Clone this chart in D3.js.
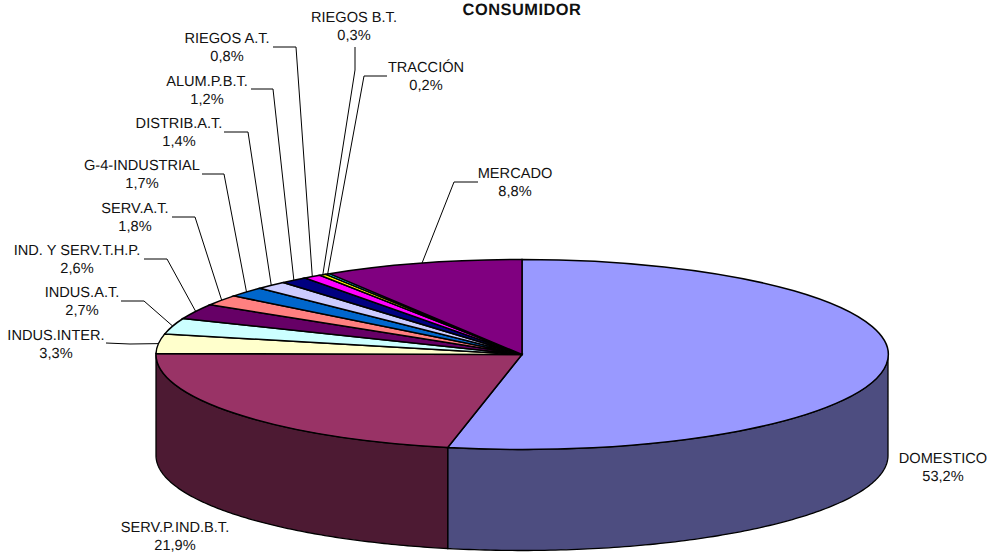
<!DOCTYPE html>
<html>
<head>
<meta charset="utf-8">
<script src="https://cdn.jsdelivr.net/npm/d3@7"></script>
<style>
    html, body { margin: 0; padding: 0; background: #fff; }
    svg { display: block; }
    text { font-family: "Liberation Sans", Arial, sans-serif; font-size: 14.6px; fill: #111; text-rendering: geometricPrecision; }
</style>
</head>
<body>
<div id="chart"></div>
<script>
const chartTitle = "CONSUMIDOR";
const categories = ["DOMESTICO", "SERV.P.IND.B.T.", "INDUS.INTER.", "INDUS.A.T.", "IND. Y SERV.T.H.P.", "SERV.A.T.",
    "G-4-INDUSTRIAL", "DISTRIB.A.T.", "ALUM.P.B.T.", "RIEGOS A.T.", "RIEGOS B.T.", "TRACCIÓN", "MERCADO"];
const shares = [53.2, 21.9, 3.3, 2.7, 2.6, 1.8, 1.7, 1.4, 1.2, 0.8, 0.3, 0.2, 8.8];
const topColors = ["#9999ff", "#993366", "#ffffcc", "#ccffff", "#660066", "#ff8080",
    "#0066cc", "#ccccff", "#000080", "#ff00ff", "#ffff00", "#00ffff", "#800080"];

// Label centre and first line baseline, then the leader start and elbow
const labelX = [943, 175, 56, 82, 77, 135, 142, 179, 207, 227, 354, 426, 515];
const labelY = [463, 532, 340, 297, 255, 213, 170, 128, 86, 43, 22, 72, 178];
const leaderStart = [null, null, [106, 343], [121, 301], [144, 259], [172, 217], [202, 174],
    [224, 132], [251, 89], [273, 47], [355, 47], [387, 76], [478, 182]];
const leaderElbow = [null, null, [130, 344], [144, 301], [167, 259], [195, 217], [224, 174],
    [248, 132], [273, 89], [296, 47], [355, 70], [364, 76], [454, 182]];

const width = 989, height = 554;
const cx = 522, cy = 354.5, rx = 366, ry = 95, depth = 101;

let svg = d3.select("#chart").append("svg")
    .attr("width", width)
    .attr("height", height)
    .attr("viewBox", `0 0 ${width} ${height}`);

let slices = d3.pie().sort(null).value(d => d)(shares);

// Unit circle to the flattened pie
let xScale = d3.scaleLinear().domain([-1, 1]).range([cx - rx, cx + rx]);
let yScale = d3.scaleLinear().domain([-1, 1]).range([cy - ry, cy + ry]);
let px = a => xScale(Math.sin(a));
let py = a => yScale(-Math.cos(a));

/* Side wall: only the part facing front, 90 to 270 degrees */
let wall = d3.area()
    .x(d => px(d))
    .y0(d => py(d))
    .y1(d => py(d) + depth);

slices.forEach((s, i) => {
    let from = Math.max(s.startAngle, Math.PI / 2);
    let to = Math.min(s.endAngle, Math.PI * 1.5);
    if (to <= from) return;
    svg.append("path")
        .attr("d", wall(d3.range(0, 121).map(k => from + (to - from) * k / 120)))
        .attr("fill", d3.interpolateRgb(topColors[i], "#000")(0.5))
        .attr("stroke", "#000")
        .attr("stroke-width", 1.3);
});

/* Top of the pie */
let arc = d3.arc().innerRadius(0).outerRadius(1);

svg.append("g")
    .attr("transform", `translate(${cx}, ${cy}) scale(${rx}, ${ry})`)
    .selectAll("path")
    .data(slices)
    .enter()
    .append("path")
    .attr("d", arc)
    .attr("fill", (d, i) => topColors[i])
    .attr("stroke", "#000")
    .attr("stroke-width", 1.5)
    .attr("vector-effect", "non-scaling-stroke");

/* Leader lines end on the middle of each slice rim */
let leader = d3.line();
slices.forEach((s, i) => {
    if (!leaderStart[i]) return;
    let mid = (s.startAngle + s.endAngle) / 2;
    svg.append("path")
        .attr("d", leader([leaderStart[i], leaderElbow[i], [px(mid), py(mid)]]))
        .attr("fill", "none")
        .attr("stroke", "#000")
        .attr("stroke-width", 1);
});

/* Labels */
let labels = svg.selectAll(".label")
    .data(categories)
    .enter()
    .append("text")
    .attr("class", "label")
    .attr("text-anchor", "middle")
    .attr("x", (d, i) => labelX[i])
    .attr("y", (d, i) => labelY[i]);

labels.append("tspan")
    .text(d => d);

labels.append("tspan")
    .attr("x", (d, i) => labelX[i])
    .attr("dy", 18)
    .text((d, i) => shares[i].toFixed(1).replace(".", ",") + "%");

svg.append("text")
    .attr("x", 522)
    .attr("y", 15)
    .attr("text-anchor", "middle")
    .attr("font-weight", "bold")
    .attr("letter-spacing", 0.5)
    .style("font-size", "16.4px")
    .text(chartTitle);
</script>
</body>
</html>
